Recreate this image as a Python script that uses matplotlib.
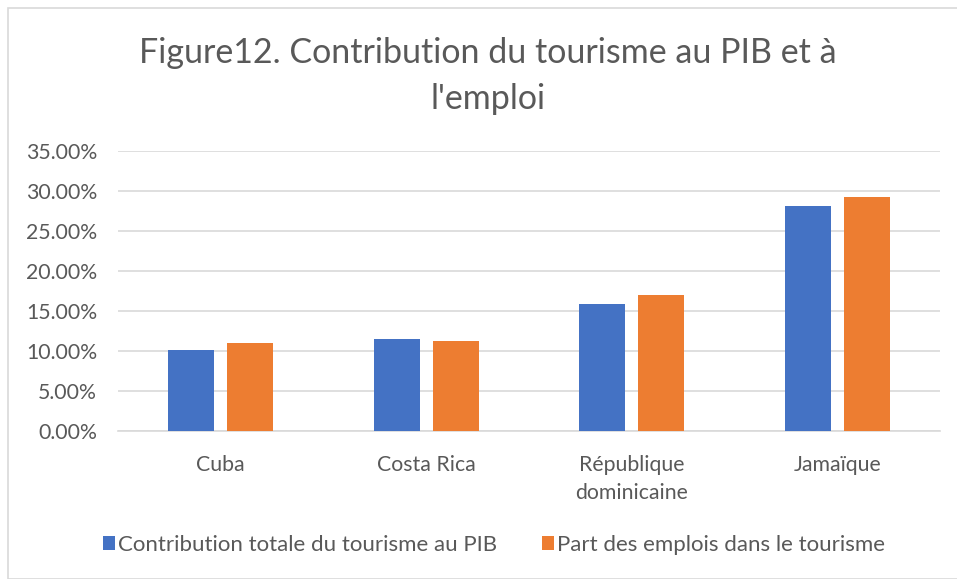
import matplotlib
matplotlib.use("Agg")
import matplotlib.pyplot as plt
import numpy as np
from matplotlib.patches import Rectangle

categories = ["Cuba", "Costa Rica", "République\ndominicaine", "Jamaïque"]
series_names = ["Contribution totale du tourisme au PIB", "Part des emplois dans le tourisme"]
pib = [10.1, 11.45, 15.85, 28.1]
emplois = [10.95, 11.3, 17.05, 29.3]
yticks = [0, 5, 10, 15, 20, 25, 30, 35]
title = "Figure12. Contribution du tourisme au PIB et à\nl'emploi"

plt.rcParams['font.family'] = ['Lato', 'DejaVu Sans']
txt = "#595959"

fig = plt.figure(figsize=(9.57, 5.79), dpi=100)
ax = fig.add_axes([118/957, 1-431/579, 822/957, 280/579])

x = np.arange(len(categories))
w = 0.224
gap = 0.063
ax.bar(x - (w+gap)/2, pib, w, color="#4472C4", label=series_names[0], zorder=3)
ax.bar(x + (w+gap)/2, emplois, w, color="#ED7D31", label=series_names[1], zorder=3)

ax.set_xlim(-0.5, len(categories)-0.5)
ax.set_ylim(0, 35)
ax.set_yticks(yticks)
ax.set_yticklabels([f"{v:.2f}%" for v in yticks], color=txt, fontsize=15.3)
ax.set_xticks(x)
ax.set_xticklabels(categories, color=txt, fontsize=15.3, linespacing=1.55)
ax.tick_params(axis='y', length=0, pad=15)
ax.tick_params(axis='x', length=0, pad=17)
ax.grid(axis='y', color="#d9d9d9", linewidth=1.2, zorder=0)
for s in ["top", "right", "left"]:
    ax.spines[s].set_visible(False)
ax.spines["bottom"].set_color("#d9d9d9")
ax.spines["bottom"].set_linewidth(1.2)

fig.text(488/957, 1-76/579, title, ha="center", va="center", fontsize=24.5,
         color=txt, linespacing=1.55)

leg = fig.legend(loc="center", bbox_to_anchor=(494/957, 1-545/579), ncol=2,
                 frameon=False, fontsize=16, handlelength=0.55, handleheight=0.55,
                 handletextpad=0.15, columnspacing=2.0)
for t in leg.get_texts():
    t.set_color(txt)

fig.patches.append(Rectangle((8/957, 0), 1, 1-8/579, transform=fig.transFigure,
                             fill=False, edgecolor="#d9d9d9", linewidth=1.2))

fig.savefig("out.png", dpi=100, facecolor="white")
